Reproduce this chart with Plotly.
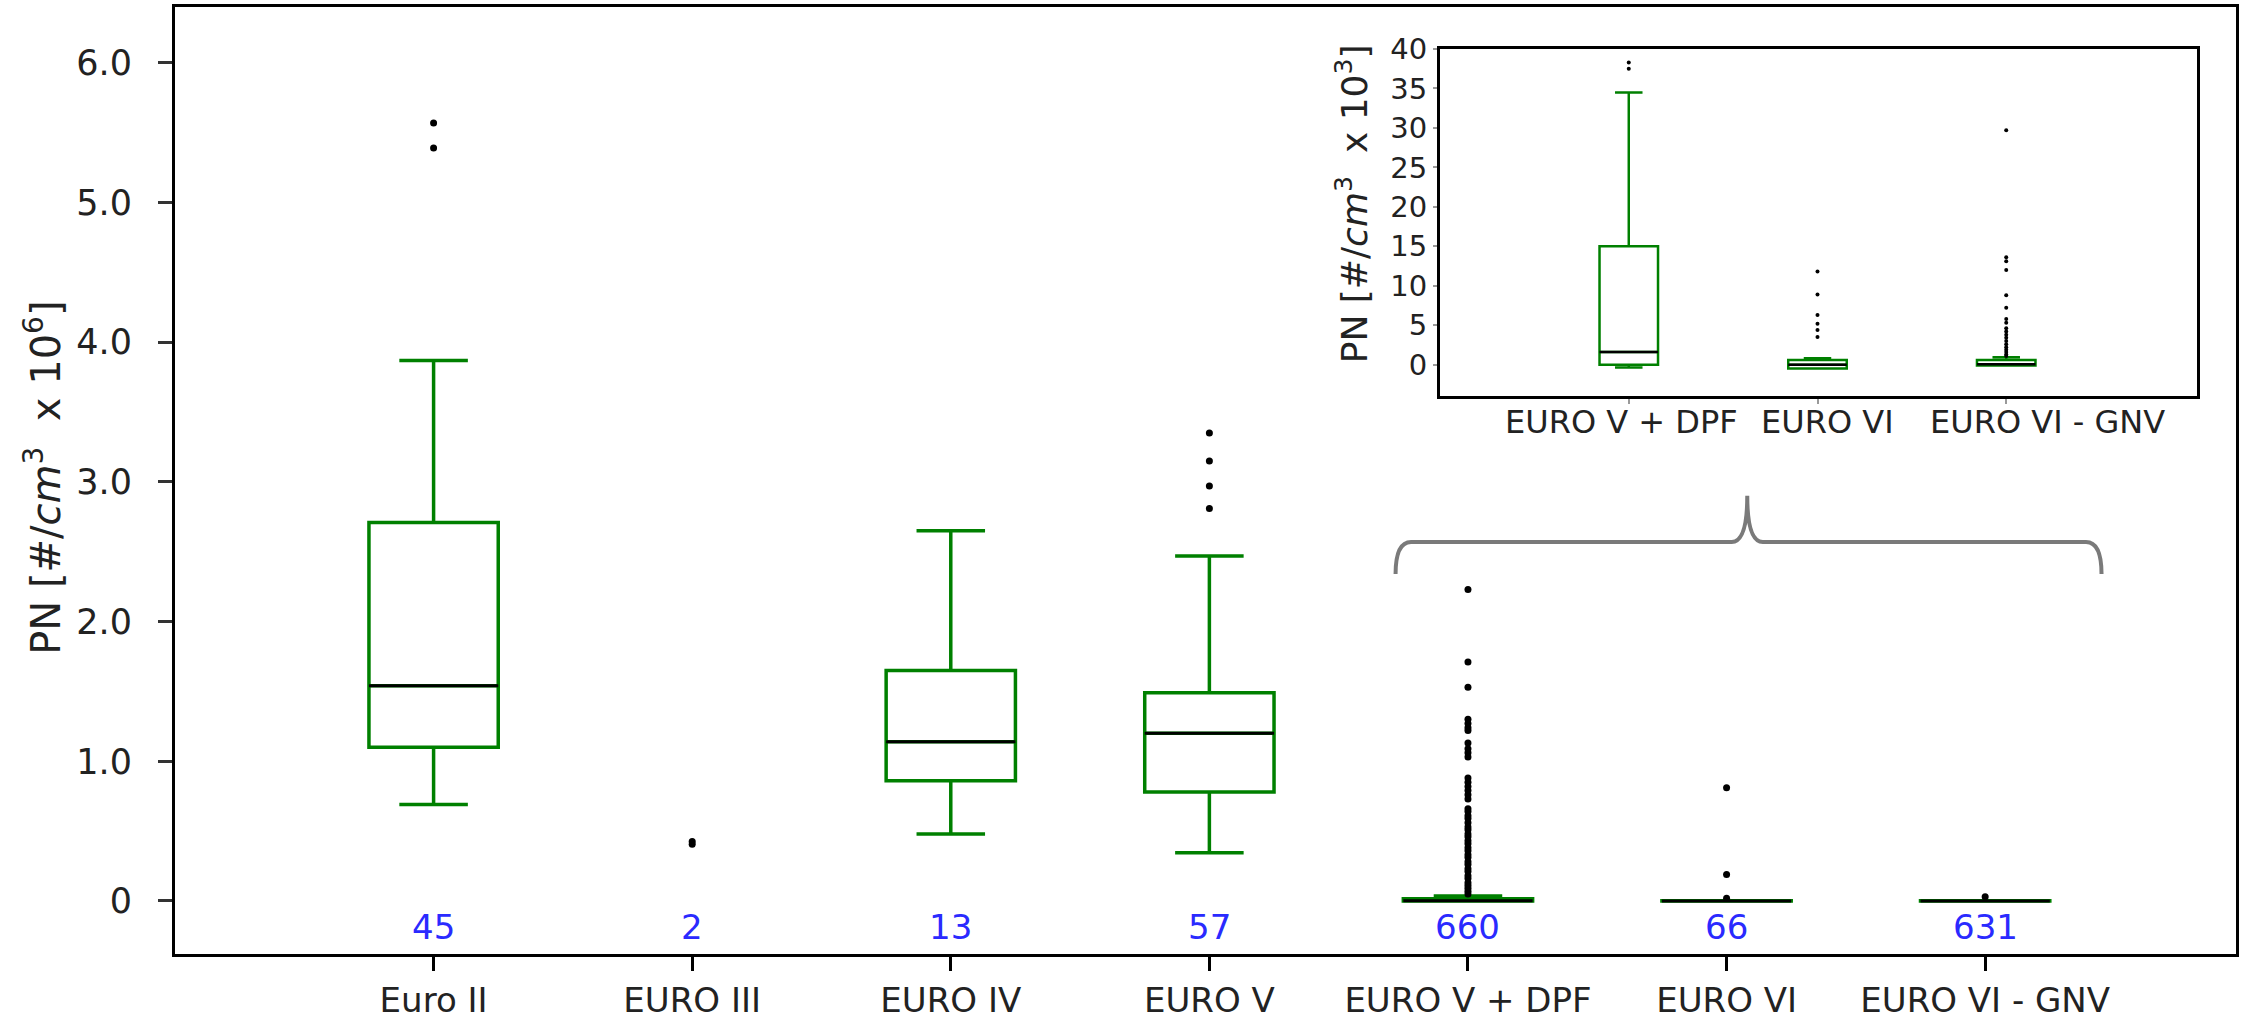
import plotly.graph_objects as go

# ---------------- main chart data (PN x 10^6 #/cm3) ----------------
categories = ["Euro II", "EURO III", "EURO IV", "EURO V", "EURO V + DPF", "EURO VI", "EURO VI - GNV"]
counts = [45, 2, 13, 57, 660, 66, 631]
box_lower = [0.69, None, 0.48, 0.345, 0.0, 0.0, 0.0]
box_q1 = [1.10, None, 0.86, 0.78, 0.0, 0.0, 0.0]
box_median = [1.54, None, 1.14, 1.20, 0.0016, 0.0, 0.0001]
box_q3 = [2.71, None, 1.65, 1.49, 0.015, 0.0004, 0.0005]
box_upper = [3.87, None, 2.65, 2.47, 0.0345, 0.0008, 0.0009]

out_euro2 = [5.57, 5.39]
out_euro3 = [0.405, 0.425]
out_euro4 = []
out_euro5 = [3.35, 3.15, 2.97, 2.81]
out_dpf = [2.23, 1.71, 1.53, 1.30, 1.27, 1.24, 1.22, 1.13, 1.09, 1.06, 1.03,
           0.88, 0.85, 0.82, 0.79, 0.76, 0.73, 0.66, 0.64, 0.61, 0.59, 0.56,
           0.53, 0.51, 0.48, 0.46, 0.43, 0.41, 0.38, 0.36, 0.33, 0.31, 0.28,
           0.26, 0.23, 0.21, 0.18, 0.16, 0.13, 0.11, 0.09, 0.07, 0.05]
out_euro6 = [0.81, 0.19, 0.02]
out_gnv = [0.03]
outliers = [out_euro2, out_euro3, out_euro4, out_euro5, out_dpf, out_euro6, out_gnv]

y_tickvals = [0, 1, 2, 3, 4, 5, 6]
y_ticktext = ["0", "1.0", "2.0", "3.0", "4.0", "5.0", "6.0"]

# ---------------- inset data (PN x 10^3 #/cm3) ----------------
inset_categories = ["EURO V + DPF", "EURO VI", "EURO VI - GNV"]
inset_label_shift = [-7, 10, 41]
inset_lower = [-0.35, -0.5, -0.1]
inset_q1 = [0.0, -0.5, -0.1]
inset_median = [1.6, 0.0, 0.05]
inset_q3 = [15.0, 0.6, 0.6]
inset_upper = [34.5, 0.8, 0.93]
inset_out_dpf = [37.5, 38.3]
inset_out_euro6 = [3.5, 4.4, 5.2, 6.3, 8.9, 11.8]
inset_out_gnv = [29.7, 13.6, 13.1, 12.0, 8.8, 7.2, 5.8, 5.3, 4.6, 4.2, 3.8, 3.4,
                 3.0, 2.6, 2.2, 1.9, 1.6, 1.3, 1.1]
inset_outliers = [inset_out_dpf, inset_out_euro6, inset_out_gnv]
inset_y_tickvals = [0, 5, 10, 15, 20, 25, 30, 35, 40]

GREEN = "#008000"
FONT = "DejaVu Sans"
TXT = "#222222"
MAIN_W = 0.5
INSET_W = 0.31

fig = go.Figure()

# ---- main boxes ----
idx = [i for i in range(len(categories)) if box_q1[i] is not None]
fig.add_trace(go.Box(
    x=idx,
    q1=[box_q1[i] for i in idx], median=[box_median[i] for i in idx],
    q3=[box_q3[i] for i in idx], lowerfence=[box_lower[i] for i in idx],
    upperfence=[box_upper[i] for i in idx],
    width=MAIN_W, whiskerwidth=0.53, boxpoints=False,
    line=dict(color=GREEN, width=3.5), fillcolor="rgba(255,255,255,0)",
    showlegend=False, hoverinfo="skip", xaxis="x", yaxis="y"))

mx, my = [], []
for i in idx:
    mx += [i - MAIN_W / 2, i + MAIN_W / 2, None]
    my += [box_median[i], box_median[i], None]
fig.add_trace(go.Scatter(x=mx, y=my, mode="lines", line=dict(color="black", width=3),
                         showlegend=False, hoverinfo="skip"))

ox, oy = [], []
for i, vals in enumerate(outliers):
    ox += [i] * len(vals)
    oy += vals
fig.add_trace(go.Scatter(x=ox, y=oy, mode="markers",
                         marker=dict(color="black", size=7),
                         showlegend=False, hoverinfo="skip"))

# ---- inset boxes ----
ii = list(range(len(inset_categories)))
fig.add_trace(go.Box(
    x=ii, q1=inset_q1, median=inset_median, q3=inset_q3,
    lowerfence=inset_lower, upperfence=inset_upper,
    width=INSET_W, whiskerwidth=0.47, boxpoints=False,
    line=dict(color=GREEN, width=2.5), fillcolor="rgba(255,255,255,0)",
    showlegend=False, hoverinfo="skip", xaxis="x2", yaxis="y2"))
imx, imy = [], []
for i in ii:
    imx += [i - INSET_W / 2, i + INSET_W / 2, None]
    imy += [inset_median[i], inset_median[i], None]
fig.add_trace(go.Scatter(x=imx, y=imy, mode="lines", line=dict(color="black", width=2.5),
                         showlegend=False, hoverinfo="skip", xaxis="x2", yaxis="y2"))
iox, ioy = [], []
for i, vals in enumerate(inset_outliers):
    iox += [i] * len(vals)
    ioy += vals
fig.add_trace(go.Scatter(x=iox, y=ioy, mode="markers",
                         marker=dict(color="black", size=4),
                         showlegend=False, hoverinfo="skip", xaxis="x2", yaxis="y2"))

# ---- inset category labels ----
for i, lab in enumerate(inset_categories):
    fig.add_annotation(x=i, y=0.589, xref="x2", yref="paper", text=lab, showarrow=False,
                       xshift=inset_label_shift[i], yshift=-5, yanchor="top",
                       font=dict(family=FONT, size=32, color=TXT))

# ---- count annotations ----
for i, n in enumerate(counts):
    fig.add_annotation(x=i, y=-0.19, xref="x", yref="y", text=str(n), showarrow=False,
                       font=dict(family=FONT, size=34, color="#2a2aff"), yanchor="middle")

# ---- axis titles ----
fig.add_annotation(x=-0.064, y=0.503, xref="paper", yref="paper", textangle=-90,
                   text="PN [#/<i>cm</i><sup>3</sup>  x 10<sup>6</sup>]", showarrow=False,
                   font=dict(family=FONT, size=40, color=TXT), xanchor="center", yanchor="middle")
fig.add_annotation(x=0.571, y=0.7925, xref="paper", yref="paper", textangle=-90,
                   text="PN [#/<i>cm</i><sup>3</sup>  x 10<sup>3</sup>]", showarrow=False,
                   font=dict(family=FONT, size=36, color=TXT), xanchor="center", yanchor="middle")

# ---- bracket ----
bx0, bx1, bxc = 3.72, 6.45, 5.08
by_base, by_end, by_tip = 2.57, 2.34, 2.90
dx = 0.06
path = (f"M {bx0},{by_end} Q {bx0},{by_base} {bx0+dx},{by_base} "
        f"L {bxc-dx},{by_base} Q {bxc},{by_base} {bxc},{by_tip} "
        f"Q {bxc},{by_base} {bxc+dx},{by_base} L {bx1-dx},{by_base} "
        f"Q {bx1},{by_base} {bx1},{by_end}")
fig.add_shape(type="path", path=path, xref="x", yref="y",
              line=dict(color="#7a7a7a", width=4))

fig.update_layout(
    width=2252, height=1019,
    margin=dict(l=175, r=16, t=7, b=65, autoexpand=False),
    paper_bgcolor="white", plot_bgcolor="white",
    showlegend=False,
    xaxis=dict(domain=[0, 1], range=[-1.0, 6.97], tickvals=list(range(len(categories))),
               ticktext=categories, ticks="outside", ticklen=14, tickwidth=3, tickcolor="black",
               showline=True, linecolor="black", linewidth=3, mirror=True,
               showgrid=False, zeroline=False, automargin=False, ticklabelstandoff=0,
               tickfont=dict(family=FONT, size=34, color=TXT)),
    yaxis=dict(domain=[0, 1], range=[-0.38, 6.40], tickvals=y_tickvals, ticktext=y_ticktext,
               ticks="outside", ticklen=14, tickwidth=3, tickcolor="#333",
               showline=True, linecolor="black", linewidth=3, mirror=True,
               showgrid=False, zeroline=False, automargin=False, ticklabelstandoff=19,
               tickfont=dict(family=FONT, size=35, color=TXT)),
    xaxis2=dict(domain=[0.6138, 0.981], anchor="y2", range=[-1.0, 3.01],
                tickvals=ii, showticklabels=False, ticks="outside", ticklen=5,
                tickwidth=2, tickcolor="#999",
                showline=True, linecolor="black", linewidth=3, mirror=True,
                showgrid=False, zeroline=False, automargin=False),
    yaxis2=dict(domain=[0.589, 0.9556], anchor="x2", range=[-4, 40],
                tickvals=inset_y_tickvals, ticks="outside", ticklen=4, tickwidth=2,
                tickcolor="#999",
                showline=True, linecolor="black", linewidth=3, mirror=True,
                showgrid=False, zeroline=False, automargin=False,
                tickfont=dict(family=FONT, size=29, color=TXT)),
)

fig.write_html("out.html")
